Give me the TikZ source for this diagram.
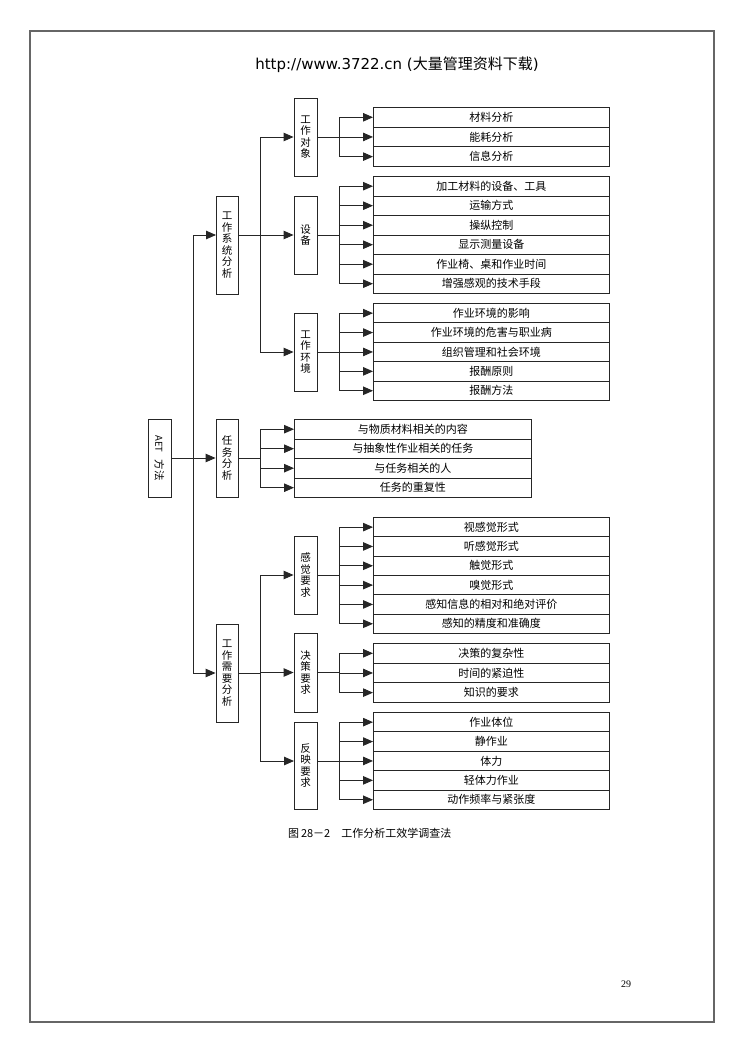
\documentclass[tikz,border=0pt]{standalone}
\usepackage{fontspec}
\setmainfont{DejaVu Sans}
\newfontfamily\cjk{Noto Sans CJK SC}
\newfontfamily\numfont{Liberation Serif}
\usetikzlibrary{arrows.meta}
\newcommand\itxt{\cjk\fontsize{11}{13}\selectfont}
\newcommand\vtxt{\cjk\fontsize{10.5}{11.5}\selectfont}
\begin{document}
\begin{tikzpicture}[x=1pt,y=-1pt,
  ln/.style={line width=0.9pt, draw=black!85},
  arr/.style={ln, -{Triangle[length=10pt,width=8.5pt]}},
  vbox/.style={draw=black!85, line width=0.9pt, minimum width=23pt, inner sep=0pt, align=center, font=\vtxt},
  rowbox/.style={draw=black!85, line width=0.9pt, minimum width=236pt, inner sep=0pt, anchor=north west, font=\itxt},
]
\fill[white] (0,0) rectangle (744,1052);
\useasboundingbox (0,0) rectangle (744,1052);
\draw[line width=1.3pt, draw=black!60] (30,31) rectangle (714,1022);

% header
\node[font=\fontsize{15}{17}\selectfont, inner sep=0pt] (hdr) at (397,65) {http://www.3722.cn ({\cjk 大量管理资料下载})};

% branch x-positions
\coordinate (m) at (193,0);
\coordinate (t) at (260,0);
\coordinate (br) at (339,0);

% root and level 1
\node[vbox, minimum height=78pt] (aet) at (159.5,458) {\rotatebox{-90}{\fontsize{9.5}{10}\selectfont AET\hspace{7pt}{\vtxt 方法}}};
\node[vbox, minimum width=22pt, minimum height=98pt] (sys) at (227,245) {工\\作\\系\\统\\分\\析};
\node[vbox, minimum width=22pt, minimum height=78pt] (rw) at (227,458) {任\\务\\分\\析};
\node[vbox, minimum width=22pt, minimum height=98pt] (need) at (227,673) {工\\作\\需\\要\\分\\析};
\coordinate (sysin) at (216,235);

\draw[arr] (aet.east) -- (rw.west);
\draw[ln] (sysin -| m) -- (need.west -| m);
\draw[arr] (sysin -| m) -- (sysin);
\draw[arr] (need.west -| m) -- (need.west);

% level 2
\node[vbox, minimum height=78pt] (dx) at (305.5,137) {工\\作\\对\\象};
\node[vbox, minimum height=78pt] (sb) at (305.5,235) {设\\备};
\node[vbox, minimum height=78pt] (hj) at (305.5,352) {工\\作\\环\\境};
\node[vbox, minimum height=78pt] (gj) at (305.5,575) {感\\觉\\要\\求};
\node[vbox, minimum height=79pt] (jc) at (305.5,672.5) {决\\策\\要\\求};
\node[vbox, minimum height=87pt] (fy) at (305.5,765.5) {反\\映\\要\\求};
\coordinate (fyin) at (294,761);

\draw[ln] (sys.east |- sysin) -- (sysin -| t);
\draw[ln] (dx.west -| t) -- (hj.west -| t);
\draw[arr] (dx.west -| t) -- (dx.west);
\draw[arr] (sb.west -| t) -- (sb.west);
\draw[arr] (hj.west -| t) -- (hj.west);

\draw[ln] (need.east) -- (need.east -| t);
\draw[ln] (gj.west -| t) -- (fyin -| t);
\draw[arr] (gj.west -| t) -- (gj.west);
\draw[arr] (jc.west -| t) -- (jc.west);
\draw[arr] (fyin -| t) -- (fyin);

% task items
\foreach \s [count=\i] in {与物质材料相关的内容,与抽象性作业相关的任务,与任务相关的人,任务的重复性} {
  \node[rowbox, minimum width=237pt, minimum height=19.5pt] (d\i) at (294,{419+(\i-1)*19.5}) {\s};
  \draw[arr] (d\i.west -| t) -- (d\i.west);
}
\draw[ln] (rw.east) -- (rw.east -| t);
\draw[ln] (d1.west -| t) -- (d4.west -| t);

% item groups
\foreach \s [count=\i] in {材料分析,能耗分析,信息分析} {
  \node[rowbox, minimum height=19.67pt] (a\i) at (373,{107+(\i-1)*19.67}) {\s};
  \draw[arr] (a\i.west -| br) -- (a\i.west);
}
\draw[ln] (dx.east) -- (dx.east -| br);
\draw[ln] (a1.west -| br) -- (a3.west -| br);

\foreach \s [count=\i] in {加工材料的设备、工具,运输方式,操纵控制,显示测量设备,作业椅、桌和作业时间,增强感观的技术手段} {
  \node[rowbox, minimum height=19.5pt] (b\i) at (373,{176+(\i-1)*19.5}) {\s};
  \draw[arr] (b\i.west -| br) -- (b\i.west);
}
\draw[ln] (sb.east) -- (sb.east -| br);
\draw[ln] (b1.west -| br) -- (b6.west -| br);

\foreach \s [count=\i] in {作业环境的影响,作业环境的危害与职业病,组织管理和社会环境,报酬原则,报酬方法} {
  \node[rowbox, minimum height=19.4pt] (c\i) at (373,{303+(\i-1)*19.4}) {\s};
  \draw[arr] (c\i.west -| br) -- (c\i.west);
}
\draw[ln] (hj.east) -- (hj.east -| br);
\draw[ln] (c1.west -| br) -- (c5.west -| br);

\foreach \s [count=\i] in {视感觉形式,听感觉形式,触觉形式,嗅觉形式,感知信息的相对和绝对评价,感知的精度和准确度} {
  \node[rowbox, minimum height=19.33pt] (e\i) at (373,{517+(\i-1)*19.33}) {\s};
  \draw[arr] (e\i.west -| br) -- (e\i.west);
}
\draw[ln] (gj.east) -- (gj.east -| br);
\draw[ln] (e1.west -| br) -- (e6.west -| br);

\foreach \s [count=\i] in {决策的复杂性,时间的紧迫性,知识的要求} {
  \node[rowbox, minimum height=19.67pt] (f\i) at (373,{643+(\i-1)*19.67}) {\s};
  \draw[arr] (f\i.west -| br) -- (f\i.west);
}
\draw[ln] (jc.east) -- (jc.east -| br);
\draw[ln] (f1.west -| br) -- (f3.west -| br);

\foreach \s [count=\i] in {作业体位,静作业,体力,轻体力作业,动作频率与紧张度} {
  \node[rowbox, minimum height=19.4pt] (g\i) at (373,{712+(\i-1)*19.4}) {\s};
  \draw[arr] (g\i.west -| br) -- (g\i.west);
}
\draw[ln] (fy.east |- fyin) -- (fyin -| br);
\draw[ln] (g1.west -| br) -- (g5.west -| br);

% caption and page number
\node[anchor=west, inner sep=0pt, font=\itxt] (cap) at (288,833) {图\,28－2\quad 工作分析工效学调查法};
\node[inner sep=0pt, font=\numfont\fontsize{10}{12}\selectfont] (pg) at (626,984) {29};
\end{tikzpicture}
\end{document}
